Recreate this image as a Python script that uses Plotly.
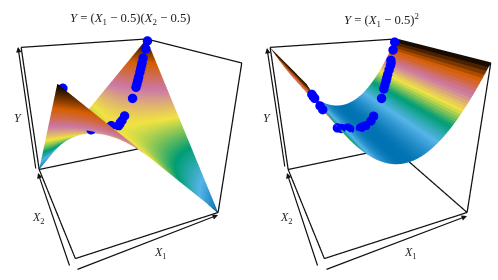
import plotly.graph_objects as go

# surface grids
grid_11 = [0.0, 0.1, 0.2, 0.3, 0.4, 0.5, 0.6, 0.7, 0.8, 0.9, 1.0]
saddle_y = [
    [0.25, 0.20, 0.15, 0.10, 0.05, 0.0, -0.05, -0.10, -0.15, -0.20, -0.25],
    [0.20, 0.16, 0.12, 0.08, 0.04, 0.0, -0.04, -0.08, -0.12, -0.16, -0.20],
    [0.15, 0.12, 0.09, 0.06, 0.03, 0.0, -0.03, -0.06, -0.09, -0.12, -0.15],
    [0.10, 0.08, 0.06, 0.04, 0.02, 0.0, -0.02, -0.04, -0.06, -0.08, -0.10],
    [0.05, 0.04, 0.03, 0.02, 0.01, 0.0, -0.01, -0.02, -0.03, -0.04, -0.05],
    [0.0, 0.0, 0.0, 0.0, 0.0, 0.0, 0.0, 0.0, 0.0, 0.0, 0.0],
    [-0.05, -0.04, -0.03, -0.02, -0.01, 0.0, 0.01, 0.02, 0.03, 0.04, 0.05],
    [-0.10, -0.08, -0.06, -0.04, -0.02, 0.0, 0.02, 0.04, 0.06, 0.08, 0.10],
    [-0.15, -0.12, -0.09, -0.06, -0.03, 0.0, 0.03, 0.06, 0.09, 0.12, 0.15],
    [-0.20, -0.16, -0.12, -0.08, -0.04, 0.0, 0.04, 0.08, 0.12, 0.16, 0.20],
    [-0.25, -0.20, -0.15, -0.10, -0.05, 0.0, 0.05, 0.10, 0.15, 0.20, 0.25],
]
grid_x1_fine = [0.0, 0.025, 0.05, 0.075, 0.1, 0.125, 0.15, 0.175, 0.2, 0.225, 0.25, 0.275, 0.3, 0.325,
                0.35, 0.375, 0.4, 0.425, 0.45, 0.475, 0.5, 0.525, 0.55, 0.575, 0.6, 0.625, 0.65, 0.675,
                0.7, 0.725, 0.75, 0.775, 0.8, 0.825, 0.85, 0.875, 0.9, 0.925, 0.95, 0.975, 1.0]
grid_x2_ends = [0.0, 1.0]
parabola_y = [0.25, 0.2256, 0.2025, 0.1806, 0.16, 0.1406, 0.1225, 0.1056, 0.09, 0.0756, 0.0625, 0.0506,
              0.04, 0.0306, 0.0225, 0.0156, 0.01, 0.0056, 0.0025, 0.0006, 0.0, 0.0006, 0.0025, 0.0056,
              0.01, 0.0156, 0.0225, 0.0306, 0.04, 0.0506, 0.0625, 0.0756, 0.09, 0.1056, 0.1225, 0.1406,
              0.16, 0.1806, 0.2025, 0.2256, 0.25]

# observed points; the last entries of the left panel sit behind the near lobe
left_x1 = [0.99, 0.96, 0.92, 0.90, 0.89, 0.875, 0.86, 0.84, 0.83, 0.82, 0.805, 0.79, 0.73, 0.61, 0.57, 0.55, 0.54, 0.52, 0.48, 0.21, 0.01]
left_x2 = [0.98, 0.95, 0.92, 0.90, 0.89, 0.875, 0.86, 0.84, 0.83, 0.82, 0.805, 0.79, 0.73, 0.62, 0.58, 0.565, 0.55, 0.53, 0.56, 0.23, 0.00]
left_y = [0.235, 0.207, 0.176, 0.160, 0.152, 0.141, 0.130, 0.116, 0.109, 0.102, 0.093, 0.084, 0.053, 0.013, 0.006, 0.003, 0.002, 0.001, -0.001, 0.078, 0.245]
left_depth = [-1, -1, -1, -1, -1, -1, -1, -1, -1, -1, -1, -1, -1, -1, -1, -1, -1, -1, -1, 0.8, 1.0]
right_x1 = [0.98, 0.95, 0.91, 0.90, 0.89, 0.87, 0.85, 0.835, 0.82, 0.80, 0.78, 0.73, 0.61, 0.57, 0.51, 0.48, 0.46, 0.36, 0.35, 0.33, 0.26, 0.18, 0.07, 0.06, 0.04, 0.035, 0.03]
right_x2 = [0.99, 0.96, 0.92, 0.90, 0.89, 0.875, 0.86, 0.845, 0.83, 0.81, 0.79, 0.73, 0.62, 0.58, 0.54, 0.53, 0.51, 0.45, 0.46, 0.42, 0.32, 0.15, 0.00, 0.00, 0.00, 0.00, 0.00]
right_y = [0.230, 0.203, 0.168, 0.160, 0.152, 0.137, 0.122, 0.112, 0.102, 0.090, 0.078, 0.053, 0.012, 0.005, 0.000, 0.000, 0.002, 0.020, 0.022, 0.029, 0.058, 0.102, 0.185, 0.194, 0.212, 0.216, 0.221]
right_depth = [-1] * len(right_x1)

# box edges (x1, x2, y) with None breaks
box_x1 = [0, 1, None, 0, 0, None, 0, 1, None, 1, 1, None, 0, 0, None, 1, 1, None, 0, 1, None, 1, 1]
box_x2 = [0, 0, None, 0, 1, None, 1, 1, None, 0, 1, None, 1, 1, None, 0, 0, None, 1, 1, None, 1, 0]
box_y = [-0.25, -0.25, None, -0.25, -0.25, None, -0.25, -0.25, None, -0.25, -0.25, None, -0.25, 0.25, None,
         -0.25, 0.25, None, 0.25, 0.25, None, 0.25, 0.25]

anchors = ["#0072B2", "#56B4E9", "#009E73", "#F0E442", "#CC79A7", "#D55E00", "#000000"]
N_FACETS = 50
# shift along the line of sight, so a marker does not cut through the sheet it lies on
SIGHT = (0.024, 0.052, -0.0135)


def rgb(h):
    return [int(h[i:i + 2], 16) for i in (1, 3, 5)]


def colour_at(t):
    s = t * (len(anchors) - 1)
    i = min(int(s), len(anchors) - 2)
    f = s - i
    a, b = rgb(anchors[i]), rgb(anchors[i + 1])
    return "rgb(%d,%d,%d)" % tuple(round(a[j] + (b[j] - a[j]) * f) for j in range(3))


smooth_scale = [[i / (len(anchors) - 1), c] for i, c in enumerate(anchors)]
facet_scale = []
for k in range(N_FACETS):
    lo, hi = (k / N_FACETS) ** 2, ((k + 1) / N_FACETS) ** 2
    c = colour_at((lo + hi) / 2)
    facet_scale += [[lo, c], [hi, c]]

flat = dict(ambient=1.0, diffuse=0.0, specular=0.0, roughness=1.0, fresnel=0.0)
fig = go.Figure()


def panel(scene, gx, gy, gz, cmin, cmax, scale, px, py, pz, depth):
    fig.add_trace(go.Surface(x=gx, y=gy, z=gz, cmin=cmin, cmax=cmax, colorscale=scale, showscale=False,
                             lighting=flat, scene=scene, hoverinfo="skip"))
    fig.add_trace(go.Scatter3d(x=box_x1, y=box_x2, z=box_y, mode="lines", scene=scene,
                               line=dict(color="#111111", width=2.5), hoverinfo="skip", showlegend=False))
    fig.add_trace(go.Scatter3d(x=[v + d * SIGHT[0] for v, d in zip(px, depth)],
                               y=[v + d * SIGHT[1] for v, d in zip(py, depth)],
                               z=[v + d * SIGHT[2] for v, d in zip(pz, depth)],
                               mode="markers", scene=scene,
                               marker=dict(color="#0000FF", size=5.5, line=dict(width=0)),
                               hoverinfo="skip", showlegend=False))


panel("scene", grid_11, grid_11, saddle_y, -0.25, 0.25, smooth_scale, left_x1, left_x2, left_y, left_depth)
panel("scene2", grid_x1_fine, grid_x2_ends, [parabola_y, parabola_y], 0.0, 0.25, facet_scale,
      right_x1, right_x2, right_y, right_depth)

axis = dict(visible=False, showgrid=False, zeroline=False, showticklabels=False, showspikes=False, showbackground=False)
W, H = 498, 280
# ranges keep 20% of slack around the unit box, and the aspect ratio grows with them
common = dict(
    bgcolor="white",
    xaxis=dict(axis, range=[-0.1, 1.1]),
    yaxis=dict(axis, range=[-0.1, 1.1]),
    zaxis=dict(axis, range=[-0.3, 0.3]),
    aspectmode="manual",
    aspectratio=dict(x=1.2, y=1.318, z=1.1968),
    camera=dict(eye=dict(x=-0.7734, y=-1.8598, z=0.8398), center=dict(x=0.0512, y=0, z=-0.1795),
                up=dict(x=0.188, y=0.407, z=0.894), projection=dict(type="perspective")),
)
TOP = 260 / 280
serif = dict(family="Liberation Serif", size=12, color="#222222")


def label(text, x, y, size=12):
    fig.add_annotation(text=text, x=x / W, y=1 - y / H, xref="paper", yref="paper", showarrow=False,
                       font=dict(serif, size=size), xanchor="center", yanchor="middle")


def arrow(x0, y0, x1, y1):
    fig.add_annotation(text="", x=x1 / W, y=1 - y1 / H, xref="paper", yref="paper", showarrow=True,
                       ax=x0 - x1, ay=y0 - y1, axref="pixel", ayref="pixel", arrowhead=2, arrowsize=0.9,
                       arrowwidth=1.2, arrowcolor="#111111")


label("<i>Y</i> = (<i>X</i><sub>1</sub> − 0.5)(<i>X</i><sub>2</sub> − 0.5)", 130, 19, 12.7)
label("<i>Y</i> = (<i>X</i><sub>1</sub> − 0.5)<sup>2</sup>", 381, 20, 12.7)
label("<i>Y</i>", 18, 118)
label("<i>X</i><sub>2</sub>", 38, 218)
label("<i>X</i><sub>1</sub>", 160, 253)
label("<i>Y</i>", 267, 118)
label("<i>X</i><sub>2</sub>", 286, 218)
label("<i>X</i><sub>1</sub>", 410, 253)
arrow(36, 170, 18, 47)
arrow(70, 267, 38, 173)
arrow(76, 270, 218, 215)
arrow(285, 168, 267, 48)
arrow(318, 267, 287, 173)
arrow(325, 270, 467, 216)

fig.update_layout(
    width=W, height=H, autosize=False, margin=dict(l=0, r=0, t=0, b=0), showlegend=False,
    paper_bgcolor="white",
    scene=dict(common, domain=dict(x=[0, 0.5], y=[0, TOP])),
    scene2=dict(common, domain=dict(x=[0.5, 1], y=[0, TOP])),
)
fig.write_html("out.html", config=dict(displayModeBar=False),
               post_script="document.body.style.margin='0';")
